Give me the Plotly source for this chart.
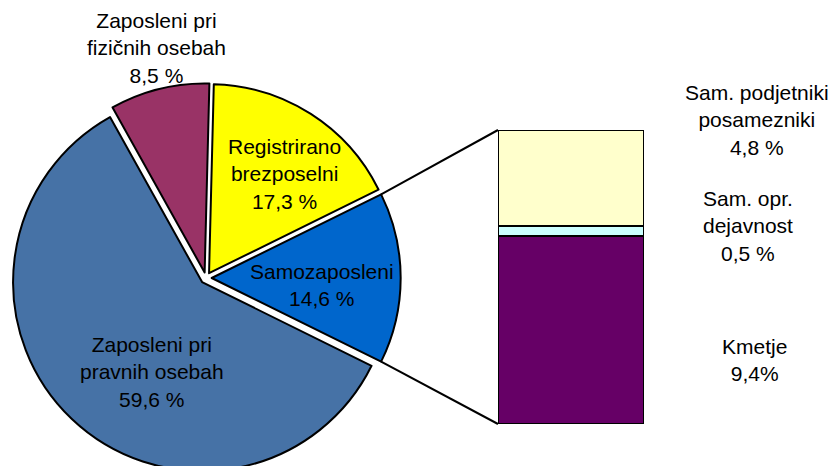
import math
import plotly.graph_objects as go

# pie: structure of active population
pie_labels = ["Samozaposleni", "Registrirano<br>brezposelni",
              "Zaposleni pri<br>fizičnih osebah", "Zaposleni pri<br>pravnih osebah"]
pie_values = [14.6, 17.3, 8.5, 59.6]
pie_colors = ["#0066CC", "#FFFF00", "#993366", "#4672A6"]

# bar: breakdown of "Samozaposleni", bottom to top
bar_labels = ["Kmetje", "Sam. opr.<br>dejavnost", "Sam. podjetniki<br>posamezniki"]
bar_values = [9.4, 0.5, 4.8]
bar_colors = ["#660066", "#CCFFFF", "#FFFFCC"]
bar_suffix = ["%", " %", " %"]


def pct(v, suffix=" %"):
    return f"{v:.1f}".replace(".", ",") + suffix


W, H = 832, 480
FONT = "Liberation Sans, Arial, sans-serif"

# pie geometry in pixels
cx, cy, r, pull = 206, 278, 189, 0.03
box = r * (1 + pull)
half = pie_values[0] / sum(pie_values) * 180  # half sweep of the split slice

# bar geometry in pixels
bx0, bx1, by_top, by_bot = 498, 644, 130, 424

fig = go.Figure()

fig.add_trace(go.Pie(
    labels=pie_labels, values=pie_values, sort=False,
    direction="counterclockwise", rotation=90 - half,
    pull=[pull] * len(pie_values),
    marker=dict(colors=pie_colors, line=dict(color="black", width=2)),
    textinfo="none", hoverinfo="skip", showlegend=False,
    domain=dict(x=[(cx - box) / W, (cx + box) / W],
                y=[1 - (cy + box) / H, 1 - (cy - box) / H]),
))

for lab, val, col in zip(bar_labels, bar_values, bar_colors):
    fig.add_trace(go.Bar(
        x=[0], y=[val], width=1, name=lab,
        marker=dict(color=col, line=dict(color="black", width=2)),
        hoverinfo="skip", showlegend=False,
    ))

# connector lines from the split slice to the bar
apx = cx + pull * r
rad = math.radians(half)
corner_up = (apx + r * math.cos(rad), cy - r * math.sin(rad))
corner_dn = (apx + r * math.cos(rad), cy + r * math.sin(rad))
shapes = []
for (x0, y0), y1 in [(corner_up, by_top), (corner_dn, by_bot)]:
    shapes.append(dict(type="line", xref="paper", yref="paper",
                       x0=x0 / W, y0=1 - y0 / H, x1=bx0 / W, y1=1 - y1 / H,
                       line=dict(color="black", width=2)))

# label positions (pixel centres of text blocks)
pie_label_pos = [(322, 285), (284, 174), (156, 48), (152, 372)]
bar_label_pos = [(754, 360), (748, 226), (757, 120)]

annotations = []
for lab, val, (x, y) in zip(pie_labels, pie_values, pie_label_pos):
    annotations.append(dict(text=f"{lab}<br>{pct(val)}", x=x / W, y=1 - y / H))
for lab, val, suf, (x, y) in zip(bar_labels, bar_values, bar_suffix, bar_label_pos):
    annotations.append(dict(text=f"{lab}<br>{pct(val, suf)}", x=x / W, y=1 - y / H))
for a in annotations:
    a.update(xref="paper", yref="paper", xanchor="center", yanchor="middle",
             showarrow=False, font=dict(family=FONT, size=21, color="black"))

fig.update_layout(
    width=W, height=H, margin=dict(l=0, r=0, t=0, b=0),
    paper_bgcolor="white", plot_bgcolor="white",
    barmode="stack", bargap=0,
    xaxis=dict(domain=[bx0 / W, bx1 / W], range=[-0.5, 0.5], visible=False),
    yaxis=dict(domain=[1 - by_bot / H, 1 - by_top / H],
               range=[0, sum(bar_values)], visible=False),
    shapes=shapes, annotations=annotations,
    font=dict(family=FONT),
)

fig.write_html("out.html", config={"displayModeBar": False},
               post_script="document.body.style.margin='0';"
                           "document.body.style.overflow='hidden';")
